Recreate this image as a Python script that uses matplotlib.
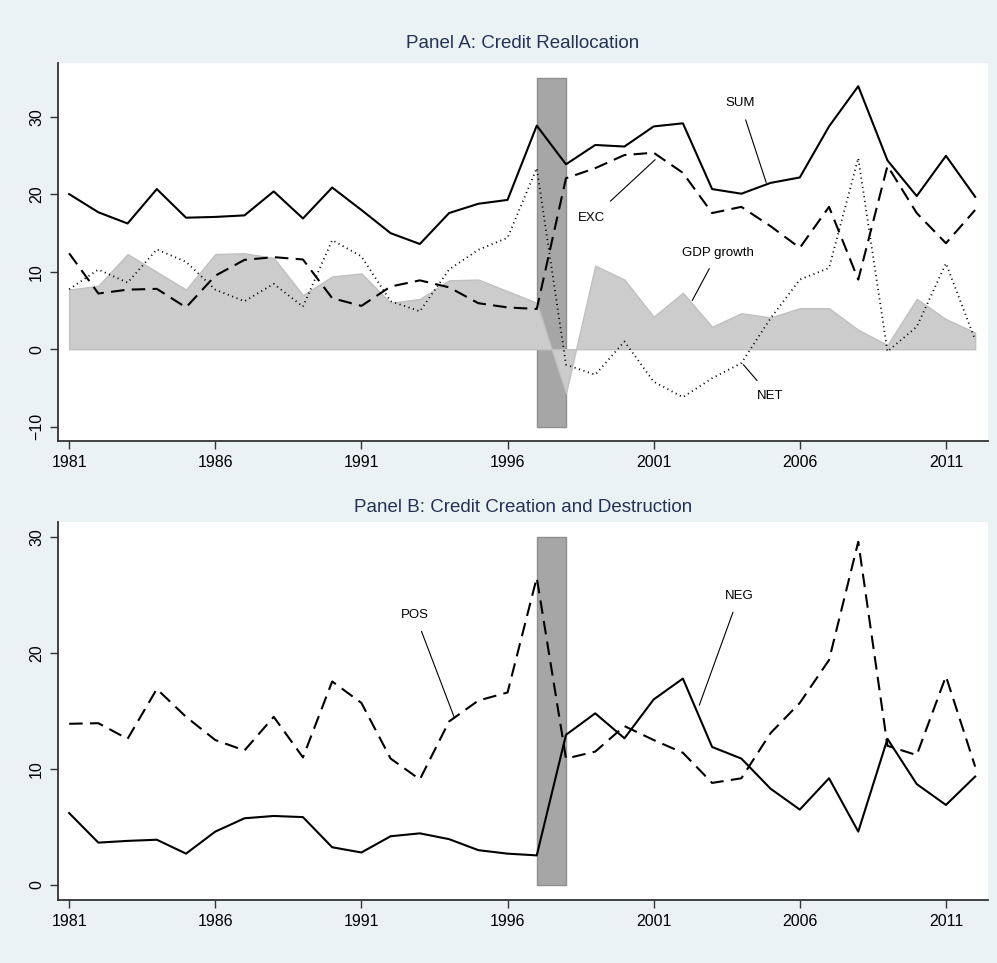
#!/usr/bin/env python
# credit reallocation / creation and destruction, two stacked panels
import numpy as np
import matplotlib.pyplot as plt
from matplotlib.patches import Rectangle

years = np.arange(1981, 2013)

# Panel A
sum_a = [20.05, 17.7, 16.25, 20.7, 17.0, 17.1, 17.3, 20.4, 16.9, 20.9,
         18.0, 15.0, 13.6, 17.6, 18.8, 19.3, 28.9, 23.9, 26.4, 26.2,
         28.8, 29.2, 20.7, 20.1, 21.5, 22.2, 28.8, 34.0, 24.4, 19.8,
         25.0, 19.7]
exc_a = [12.4, 7.2, 7.7, 7.8, 5.4, 9.5, 11.55, 11.9, 11.6, 6.6,
         5.6, 8.1, 8.9, 8.0, 5.95, 5.4, 5.2, 22.1, 23.4, 25.1,
         25.4, 22.8, 17.6, 18.4, 15.9, 13.1, 18.4, 9.0, 23.7, 17.6,
         13.7, 18.0]
net_a = [7.75, 10.3, 8.6, 12.9, 11.3, 7.7, 6.2, 8.45, 5.5, 14.1,
         12.0, 6.2, 4.9, 10.3, 12.85, 14.4, 23.4, -2.0, -3.3, 1.0,
         -4.2, -6.2, -3.75, -1.8, 4.0, 9.0, 10.5, 24.7, -0.3, 2.9,
         11.1, 1.2]
gdp = [7.7, 8.2, 12.3, 10.0, 7.7, 12.3, 12.4, 11.8, 7.0, 9.4,
       9.8, 6.0, 6.5, 8.9, 9.0, 7.5, 6.0, -5.7, 10.8, 9.0,
       4.2, 7.3, 2.9, 4.65, 4.1, 5.3, 5.3, 2.5, 0.55, 6.5,
       3.9, 2.15]

# Panel B
pos_b = [13.9, 13.95, 12.6, 16.9, 14.5, 12.5, 11.6, 14.5, 11.0, 17.55,
         15.7, 10.9, 9.1, 14.1, 15.9, 16.6, 26.5, 10.9, 11.5, 13.7,
         12.5, 11.4, 8.8, 9.2, 13.1, 15.7, 19.4, 29.6, 12.0, 11.2,
         18.0, 10.2]
neg_b = [6.2, 3.65, 3.8, 3.9, 2.7, 4.6, 5.75, 5.95, 5.85, 3.25,
         2.8, 4.2, 4.45, 3.95, 3.0, 2.7, 2.55, 12.95, 14.8, 12.65,
         16.0, 17.8, 11.9, 10.9, 8.3, 6.5, 9.2, 4.6, 12.6, 8.7,
         6.9, 9.35]

xticks = [1981, 1986, 1991, 1996, 2001, 2006, 2011]
crisis = (1997, 1998)

bg = '#eaf2f3'
navy = '#24325a'
plt.rcParams['font.family'] = ['Liberation Sans', 'DejaVu Sans']

fig = plt.figure(figsize=(9.97, 9.63), dpi=100, facecolor=bg)
axA = fig.add_axes([0.0582, 0.5421, 0.9328, 0.3925])
axB = fig.add_axes([0.0582, 0.0654, 0.9328, 0.3925])

dash = (0, (6.5, 3.5))
dot = (0, (0.6, 2.0))


def style(ax, yticks, ylim):
    ax.set_facecolor('white')
    ax.set_xlim(1980.62, 2012.44)
    ax.set_ylim(*ylim)
    ax.set_xticks(xticks)
    ax.set_yticks(yticks)
    for s in ('top', 'right'):
        ax.spines[s].set_visible(False)
    for s in ('left', 'bottom'):
        ax.spines[s].set_color('#333333')
        ax.spines[s].set_linewidth(1.3)
    ax.tick_params(length=6, width=1, color='#333333', labelsize=11.5,
                   pad=4)
    for lab in ax.get_yticklabels():
        lab.set_rotation(90)
        lab.set_va('center')


def note(ax, text, xy, xytext, shrink=6):
    ax.annotate(text, xy=xy, xytext=xytext, ha='center', va='center',
                fontsize=9.5,
                arrowprops=dict(arrowstyle='-', lw=0.8, color='black',
                                shrinkA=shrink, shrinkB=0))


# Panel A
style(axA, [-10, 0, 10, 20, 30], (-11.86, 37.0))
axA.add_patch(Rectangle((crisis[0], -10), crisis[1] - crisis[0], 45,
                        facecolor='#a6a6a6', edgecolor='#8f8f8f', lw=1,
                        zorder=1))
axA.fill_between(years, 0, gdp, facecolor='#cccccc', edgecolor='#c0c0c0',
                 lw=1, zorder=2)
axA.plot(years, sum_a, color='black', lw=1.5, zorder=3)
axA.plot(years, exc_a, color='black', lw=1.5, ls=dash, zorder=3)
axA.plot(years, net_a, color='black', lw=1.3, ls=dot, zorder=3)

note(axA, 'SUM', (2004.85, 21.55), (2003.96, 31.8))
note(axA, 'EXC', (2001.05, 24.5), (1998.88, 16.9), shrink=9)
note(axA, 'GDP growth', (2002.32, 6.3), (2003.2, 12.5))
note(axA, 'NET', (2004.07, -2.0), (2004.98, -6.0))

# Panel B
style(axB, [0, 10, 20, 30], (-1.3, 31.3))
axB.add_patch(Rectangle((crisis[0], 0), crisis[1] - crisis[0], 30,
                        facecolor='#a6a6a6', edgecolor='#8f8f8f', lw=1,
                        zorder=1))
axB.plot(years, neg_b, color='black', lw=1.5, zorder=3)
axB.plot(years, pos_b, color='black', lw=1.5, ls=dash, zorder=3)

note(axB, 'POS', (1994.17, 14.5), (1992.84, 23.3))
note(axB, 'NEG', (2002.56, 15.5), (2003.92, 24.96))

fig.text(0.5246, 1 - 43 / 963, 'Panel A: Credit Reallocation', color=navy,
         fontsize=13.5, ha='center', va='center')
fig.text(0.5246, 1 - 507 / 963, 'Panel B: Credit Creation and Destruction',
         color=navy, fontsize=13.5, ha='center', va='center')

fig.savefig('out.png', dpi=100, facecolor=bg)
